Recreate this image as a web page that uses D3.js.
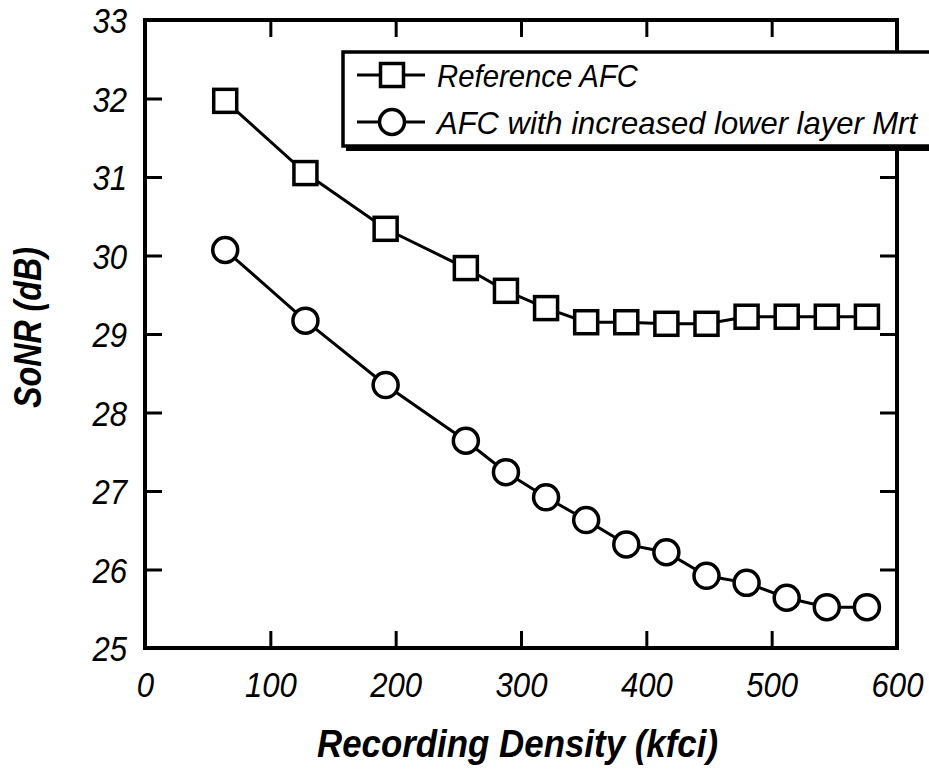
<!DOCTYPE html>
<html lang="en">
<head>
	<meta charset="utf-8">
	<title>SoNR vs Recording Density</title>
	<script src="https://cdn.jsdelivr.net/npm/d3@7"></script>
	<style>
		body { margin: 0; background: #fff; }
		svg { display: block; }
		text { font-family: "Liberation Sans", Arial, sans-serif; font-style: italic; fill: #000; }
		.tick text { font-size: 35px; }
		.title { font-weight: bold; font-size: 39px; }
		.legend text { font-size: 32px; }
	</style>
</head>
<body>
<script>
	// data
	var density = [64, 128, 192, 256, 288, 320, 352, 384, 416, 448, 480, 512, 544, 576];
	var refAFC = [31.97, 31.05, 30.34, 29.84, 29.55, 29.33, 29.15, 29.15, 29.13, 29.13, 29.22, 29.22, 29.22, 29.22];
	var incAFC = [30.07, 29.17, 28.35, 27.64, 27.24, 26.92, 26.63, 26.32, 26.22, 25.92, 25.83, 25.64, 25.52, 25.52];
	var xTicks = [0, 100, 200, 300, 400, 500, 600];
	var yTicks = [25, 26, 27, 28, 29, 30, 31, 32, 33];
	var seriesNames = ["Reference AFC", "AFC with increased lower layer Mrt"];

	var w = 929, h = 773;
	var ml = 145, mr = 897, mt = 20, mb = 648;

	var x = d3.scaleLinear().domain([0, 600]).range([ml, mr]);
	var y = d3.scaleLinear().domain([25, 33]).range([mb, mt]);

	var svg = d3.select("body").append("svg")
		.attr("width", w)
		.attr("height", h);

	svg.append("rect").attr("width", w).attr("height", h).attr("fill", "#fff");

	// narrow digits, like the condensed face of the original
	function squeeze(g) {
		g.selectAll(".tick text")
			.attr("textLength", function(d) { return String(d).length * 17.3; })
			.attr("lengthAdjust", "spacingAndGlyphs");
	}

	// inward ticks on all four sides
	var tickLen = 17;
	svg.append("g")
		.attr("transform", "translate(0," + mb + ")")
		.call(d3.axisBottom(x).tickValues(xTicks).tickSizeInner(-tickLen).tickSizeOuter(0))
		.call(function(g) {
			g.select(".domain").remove();
			g.selectAll(".tick text").attr("y", 49).attr("dy", null);
			squeeze(g);
		});
	svg.append("g")
		.attr("transform", "translate(0," + mt + ")")
		.call(d3.axisTop(x).tickValues(xTicks).tickSizeInner(-tickLen).tickSizeOuter(0).tickFormat(""))
		.call(function(g) { g.select(".domain").remove(); });
	svg.append("g")
		.attr("transform", "translate(" + ml + ",0)")
		.call(d3.axisLeft(y).tickValues(yTicks).tickSizeInner(-tickLen).tickSizeOuter(0).tickPadding(18))
		.call(function(g) {
			g.select(".domain").remove();
			g.selectAll(".tick text").attr("dy", "0.36em");
			squeeze(g);
		});
	svg.append("g")
		.attr("transform", "translate(" + mr + ",0)")
		.call(d3.axisRight(y).tickValues(yTicks).tickSizeInner(-tickLen).tickSizeOuter(0).tickFormat(""))
		.call(function(g) { g.select(".domain").remove(); });

	svg.selectAll(".tick line").attr("stroke", "#000").attr("stroke-width", 3);
	svg.selectAll(".tick text").attr("font-family", null).attr("font-size", null);

	// frame
	svg.append("rect")
		.attr("x", ml).attr("y", mt)
		.attr("width", mr - ml).attr("height", mb - mt)
		.attr("fill", "none").attr("stroke", "#000").attr("stroke-width", 4);

	// axis titles
	svg.append("text").attr("class", "title")
		.attr("x", 317).attr("y", 757)
		.attr("textLength", 401).attr("lengthAdjust", "spacingAndGlyphs")
		.text("Recording Density (kfci)");
	svg.append("text").attr("class", "title")
		.attr("transform", "translate(41,408) rotate(-90)")
		.attr("textLength", 161).attr("lengthAdjust", "spacingAndGlyphs")
		.text("SoNR (dB)");

	var line = d3.line()
		.x(function(d) { return x(d[0]); })
		.y(function(d) { return y(d[1]); });

	var series = [d3.zip(density, refAFC), d3.zip(density, incAFC)];

	var half = 11.5, rad = 12.5;

	function drawSquare(g, cx, cy) {
		g.append("rect")
			.attr("x", cx - half).attr("y", cy - half)
			.attr("width", half * 2).attr("height", half * 2)
			.attr("fill", "#fff").attr("stroke", "#000").attr("stroke-width", 3.5);
	}
	function drawCircle(g, cx, cy) {
		g.append("circle")
			.attr("cx", cx).attr("cy", cy).attr("r", rad)
			.attr("fill", "#fff").attr("stroke", "#000").attr("stroke-width", 3.5);
	}

	series.forEach(function(s, i) {
		svg.append("path")
			.datum(s)
			.attr("d", line)
			.attr("fill", "none")
			.attr("stroke", "#000")
			.attr("stroke-width", 3);
		var g = svg.append("g");
		s.forEach(function(d) {
			if (i === 0) drawSquare(g, x(d[0]), y(d[1]));
			else drawCircle(g, x(d[0]), y(d[1]));
		});
	});

	// legend box with a heavy bottom edge, running off the right side
	var lg = svg.append("g").attr("class", "legend");
	lg.append("rect")
		.attr("x", 346).attr("y", 146)
		.attr("width", 600).attr("height", 5)
		.attr("fill", "#000");
	lg.append("rect")
		.attr("x", 343).attr("y", 52)
		.attr("width", 620).attr("height", 94)
		.attr("fill", "#fff").attr("stroke", "#000").attr("stroke-width", 3.5);

	var rows = [75, 122];
	var textLens = [201, 480];
	rows.forEach(function(ry, i) {
		lg.append("line")
			.attr("x1", 357).attr("x2", 425)
			.attr("y1", ry).attr("y2", ry)
			.attr("stroke", "#000").attr("stroke-width", 3);
		if (i === 0) drawSquare(lg, 392, ry);
		else drawCircle(lg, 392, ry);
		lg.append("text")
			.attr("x", 437).attr("y", ry + 12)
			.attr("textLength", textLens[i]).attr("lengthAdjust", "spacingAndGlyphs")
			.text(seriesNames[i]);
	});
</script>
</body>
</html>
